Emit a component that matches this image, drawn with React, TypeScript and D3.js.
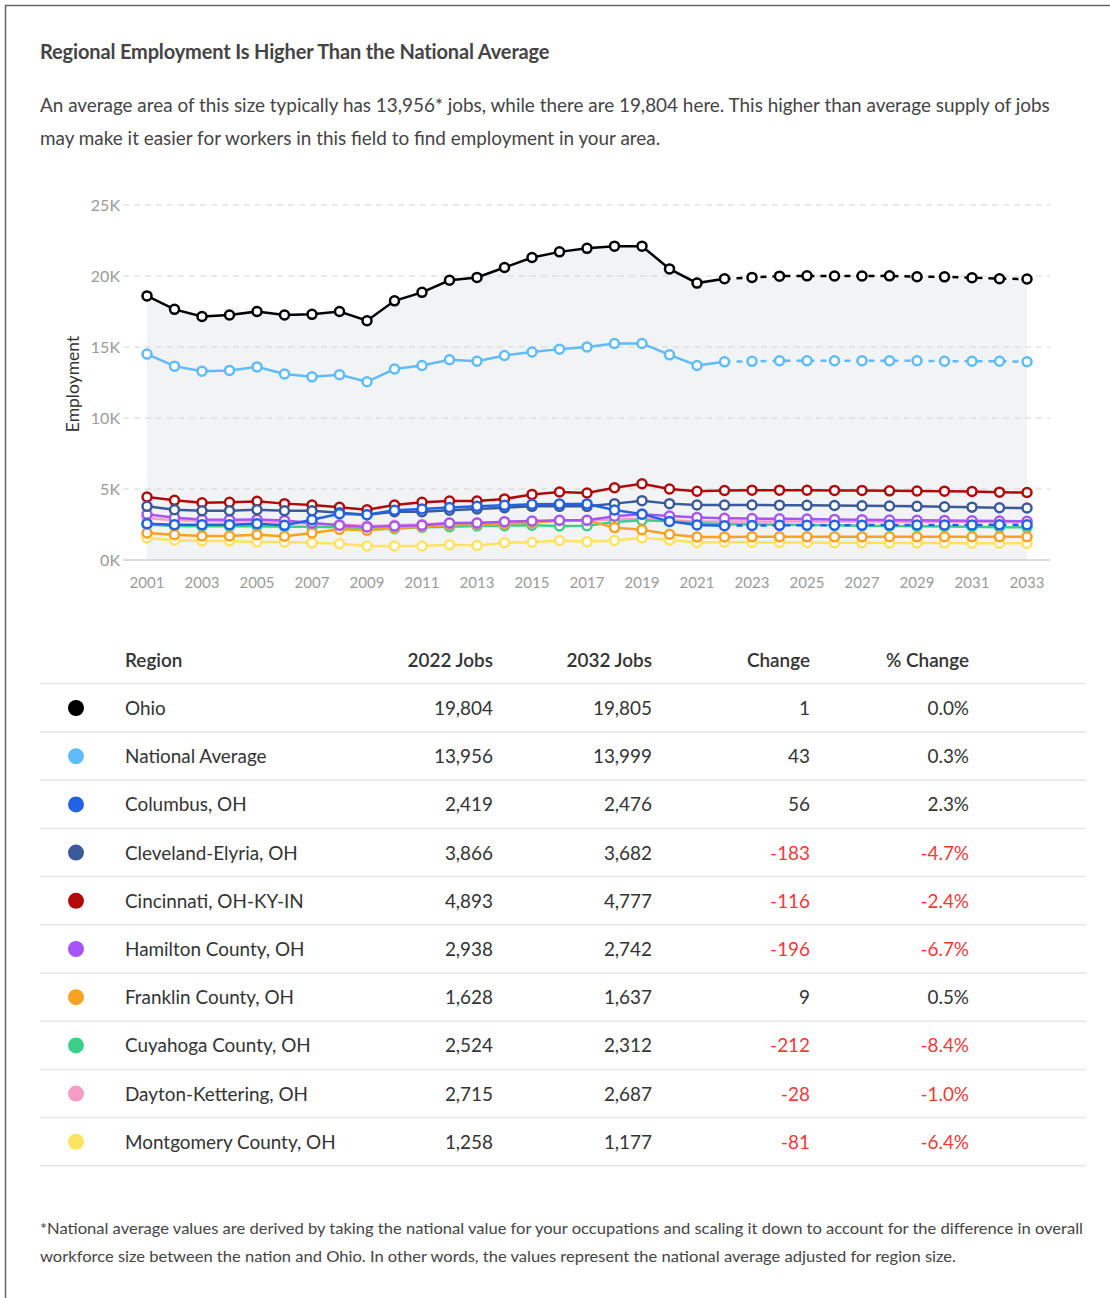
import React, { useEffect, useRef } from "react";
import * as d3 from "d3";

// x categories (2001-2033); projection starts at 2022
const years = [
  2001, 2002, 2003, 2004, 2005, 2006, 2007, 2008, 2009, 2010, 2011, 2012, 2013, 2014, 2015, 2016, 2017,
  2018, 2019, 2020, 2021, 2022, 2023, 2024, 2025, 2026, 2027, 2028, 2029, 2030, 2031, 2032, 2033,
];
const projectionStart = 2022;
const xTicks = [2001, 2003, 2005, 2007, 2009, 2011, 2013, 2015, 2017, 2019, 2021, 2023, 2025, 2027, 2029, 2031, 2033];
const yTicks = [0, 5000, 10000, 15000, 20000, 25000];

const ohio = [
  18600, 17650, 17150, 17250, 17500, 17250, 17300, 17500, 16850, 18250, 18850, 19700, 19900, 20600, 21300, 21700,
  21950, 22100, 22100, 20500, 19500, 19804, 19900, 19990, 20010, 20000, 20000, 20010, 19950, 19940, 19880, 19805, 19790,
];
const national = [
  14500, 13650, 13300, 13350, 13600, 13100, 12900, 13050, 12550, 13450, 13700, 14100, 14000, 14400, 14650, 14850,
  15000, 15250, 15250, 14450, 13700, 13956, 13990, 14030, 14030, 14030, 14030, 14030, 14030, 14000, 14000, 13999, 13960,
];
const columbus = [
  2560, 2490, 2490, 2490, 2560, 2440, 2840, 3260, 3190, 3500, 3590, 3700, 3780, 3850, 3920, 3950, 3950, 3520, 3230,
  2720, 2470, 2419, 2430, 2440, 2445, 2450, 2455, 2460, 2465, 2470, 2472, 2476, 2480,
];
const cleveland = [
  3780, 3540, 3470, 3470, 3540, 3470, 3470, 3330, 3190, 3400, 3400, 3500, 3590, 3680, 3780, 3780, 3780, 3970, 4180,
  3970, 3870, 3866, 3870, 3860, 3850, 3840, 3820, 3800, 3780, 3750, 3720, 3682, 3660,
];
const cincinnati = [
  4440, 4200, 4030, 4060, 4130, 3970, 3870, 3710, 3540, 3870, 4060, 4150, 4150, 4300, 4620, 4790, 4720, 5090, 5370,
  5000, 4840, 4893, 4920, 4920, 4910, 4900, 4900, 4870, 4860, 4850, 4830, 4777, 4750,
];
const hamilton = [
  3220, 2980, 2860, 2840, 2860, 2790, 2600, 2440, 2320, 2390, 2440, 2600, 2600, 2700, 2750, 2800, 2800, 3080, 3220,
  3100, 3000, 2938, 2920, 2900, 2880, 2860, 2840, 2820, 2800, 2790, 2770, 2742, 2730,
];
const franklin = [
  1900, 1780, 1690, 1690, 1780, 1670, 1900, 2160, 2090, 2250, 2320, 2490, 2490, 2560, 2630, 2790, 2790, 2280, 2130,
  1810, 1620, 1628, 1630, 1630, 1630, 1632, 1633, 1634, 1635, 1635, 1636, 1637, 1637,
];
const cuyahoga = [
  2500, 2400, 2380, 2380, 2380, 2350, 2350, 2300, 2150, 2200, 2300, 2350, 2400, 2420, 2450, 2400, 2420, 2680, 2800,
  2720, 2600, 2524, 2500, 2480, 2460, 2440, 2420, 2400, 2380, 2360, 2340, 2312, 2300,
];
const dayton = [
  2950, 2800, 2750, 2720, 2750, 2650, 2550, 2500, 2400, 2450, 2500, 2600, 2620, 2650, 2700, 2750, 2780, 2850, 2900,
  2800, 2720, 2715, 2712, 2710, 2708, 2705, 2703, 2700, 2698, 2695, 2692, 2687, 2685,
];
const montgomery = [
  1550, 1390, 1340, 1340, 1270, 1270, 1220, 1150, 990, 990, 990, 1080, 1020, 1220, 1250, 1370, 1290, 1370, 1560,
  1400, 1230, 1258, 1250, 1240, 1230, 1220, 1210, 1200, 1200, 1190, 1180, 1177, 1170,
];

// table
const regions = [
  "Ohio", "National Average", "Columbus, OH", "Cleveland-Elyria, OH", "Cincinnati, OH-KY-IN",
  "Hamilton County, OH", "Franklin County, OH", "Cuyahoga County, OH", "Dayton-Kettering, OH", "Montgomery County, OH",
];
const colors = [
  "#000000", "#5fbcf8", "#2262e6", "#3b5a9a", "#b00a0a", "#a855f7", "#f7a223", "#3dcf8a", "#f79cc6", "#fde35f",
];
// which series draw their projection dashed
const dashedProjection = [true, true, true, false, false, false, false, false, false, false];
const jobs2022 = ["19,804", "13,956", "2,419", "3,866", "4,893", "2,938", "1,628", "2,524", "2,715", "1,258"];
const jobs2032 = ["19,805", "13,999", "2,476", "3,682", "4,777", "2,742", "1,637", "2,312", "2,687", "1,177"];
const changes = ["1", "43", "56", "-183", "-116", "-196", "9", "-212", "-28", "-81"];
const pctChanges = ["0.0%", "0.3%", "2.3%", "-4.7%", "-2.4%", "-6.7%", "0.5%", "-8.4%", "-1.0%", "-6.4%"];
const seriesValues = [ohio, national, columbus, cleveland, cincinnati, hamilton, franklin, cuyahoga, dayton, montgomery];

const App: React.FC = () => {
  const svgRef = useRef<SVGSVGElement>(null);

  useEffect(() => {
    if (!svgRef.current) return;
    const svg = d3.select(svgRef.current);
    svg.selectAll("*").remove();

    const font = "Lato, 'Open Sans', sans-serif";
    const textColor = "#444";

    // frame
    svg.append("path").attr("d", "M5.5,1298 L5.5,5.5 L1110,5.5").attr("fill", "none").attr("stroke", "#666").attr("stroke-width", 1.5);

    // title + intro
    svg.append("text").attr("x", 40).attr("y", 59).attr("font-family", font).attr("font-weight", 700)
      .attr("font-size", 20).attr("letter-spacing", -0.15).attr("fill", textColor)
      .text("Regional Employment Is Higher Than the National Average");

    const intro = [
      "An average area of this size typically has 13,956* jobs, while there are 19,804 here. This higher than average supply of jobs",
      "may make it easier for workers in this field to find employment in your area.",
    ];
    intro.forEach((t, i) => {
      svg.append("text").attr("x", 40).attr("y", 112 + i * 33).attr("font-family", font)
        .attr("font-size", 18.9).attr("fill", textColor).text(t);
    });

    // chart scales
    const x = d3.scaleLinear().domain([2001, 2033]).range([147, 1027]);
    const y = d3.scaleLinear().domain([0, 25000]).range([560, 205]);

    const g = svg.append("g");

    // shaded area under Ohio
    const area = d3.area<number>().x((_, i) => x(years[i])).y0(y(0)).y1((d) => y(d));
    g.append("path").datum(ohio).attr("d", area).attr("fill", "#f2f3f5");

    // gridlines and y ticks
    yTicks.forEach((t) => {
      g.append("line").attr("x1", 123).attr("x2", 1050).attr("y1", y(t)).attr("y2", y(t))
        .attr("stroke", t === 0 ? "#d0d0d0" : "#d4d4d4").attr("stroke-width", t === 0 ? 1.5 : 1)
        .attr("stroke-dasharray", t === 0 ? null : "6,5");
      g.append("text").attr("x", 120).attr("y", y(t)).attr("dy", "0.35em").attr("text-anchor", "end")
        .attr("font-family", font).attr("font-size", 16).attr("fill", "#9a9a9a").text(`${t / 1000}K`);
    });

    xTicks.forEach((t) => {
      g.append("text").attr("x", x(t)).attr("y", 588).attr("text-anchor", "middle")
        .attr("font-family", font).attr("font-size", 15).attr("fill", "#9a9a9a").text(t);
    });

    g.append("text").attr("transform", "translate(79,384) rotate(-90)").attr("text-anchor", "middle")
      .attr("font-family", font).attr("font-size", 17.5).attr("fill", "#333").text("Employment");

    const line = d3.line<[number, number]>().x((d) => x(d[0])).y((d) => y(d[1]));

    // draw from last to first so Ohio ends up on top
    for (let s = seriesValues.length - 1; s >= 0; s--) {
      const vals = seriesValues[s];
      const pts: [number, number][] = years.map((yr, i) => [yr, vals[i]]);
      const hist = pts.filter((p) => p[0] <= projectionStart);
      const proj = pts.filter((p) => p[0] >= projectionStart);
      const sg = g.append("g");
      sg.append("path").attr("d", line(hist)).attr("fill", "none").attr("stroke", colors[s]).attr("stroke-width", 2.5);
      sg.append("path").attr("d", line(proj)).attr("fill", "none").attr("stroke", colors[s]).attr("stroke-width", 2.5)
        .attr("stroke-dasharray", dashedProjection[s] ? "6,6" : null);
      sg.selectAll("circle").data(pts).enter().append("circle")
        .attr("cx", (d) => x(d[0])).attr("cy", (d) => y(d[1])).attr("r", 4.5)
        .attr("fill", "#fff").attr("stroke", colors[s]).attr("stroke-width", 2.5);
    }

    // table
    const cols = [493, 652, 810, 969];
    const headers = ["2022 Jobs", "2032 Jobs", "Change", "% Change"];
    const tg = svg.append("g").attr("font-family", font).attr("font-size", 18.9);
    tg.append("text").attr("x", 125).attr("y", 667).attr("font-weight", 600).attr("fill", "#333").text("Region");
    headers.forEach((h, i) => {
      tg.append("text").attr("x", cols[i]).attr("y", 667).attr("text-anchor", "end").attr("font-weight", 600)
        .attr("fill", "#333").text(h);
    });
    const rowH = 48.2;
    tg.append("line").attr("x1", 40).attr("x2", 1086).attr("y1", 683.5).attr("y2", 683.5).attr("stroke", "#e6e6e6").attr("stroke-width", 1.5);
    regions.forEach((r, i) => {
      const cy = 708 + i * rowH;
      tg.append("circle").attr("cx", 76).attr("cy", cy).attr("r", 8).attr("fill", colors[i]);
      tg.append("text").attr("x", 125).attr("y", cy + 7).attr("fill", "#333").text(r);
      const neg = changes[i].startsWith("-");
      const vals = [jobs2022[i], jobs2032[i], changes[i], pctChanges[i]];
      vals.forEach((v, j) => {
        tg.append("text").attr("x", cols[j]).attr("y", cy + 7).attr("text-anchor", "end")
          .attr("fill", j >= 2 && neg ? "#f23a3a" : "#333").text(v);
      });
      tg.append("line").attr("x1", 40).attr("x2", 1086).attr("y1", cy + 24).attr("y2", cy + 24)
        .attr("stroke", "#e6e6e6").attr("stroke-width", 1.5);
    });

    // footnote
    const notes = [
      "*National average values are derived by taking the national value for your occupations and scaling it down to account for the difference in overall",
      "workforce size between the nation and Ohio. In other words, the values represent the national average adjusted for region size.",
    ];
    const noteWidths = [1043, 916];
    notes.forEach((t, i) => {
      svg.append("text").attr("x", 40).attr("y", 1234 + i * 28).attr("font-family", font).attr("font-size", 16)
        .attr("fill", textColor).attr("textLength", noteWidths[i]).attr("lengthAdjust", "spacingAndGlyphs").text(t);
    });
  }, []);

  return (
    <div style={{ position: "absolute", left: 0, top: 0 }}>
      <svg ref={svgRef} width={1110} height={1298} style={{ display: "block", background: "#fff" }}></svg>
    </div>
  );
};

export default App;
